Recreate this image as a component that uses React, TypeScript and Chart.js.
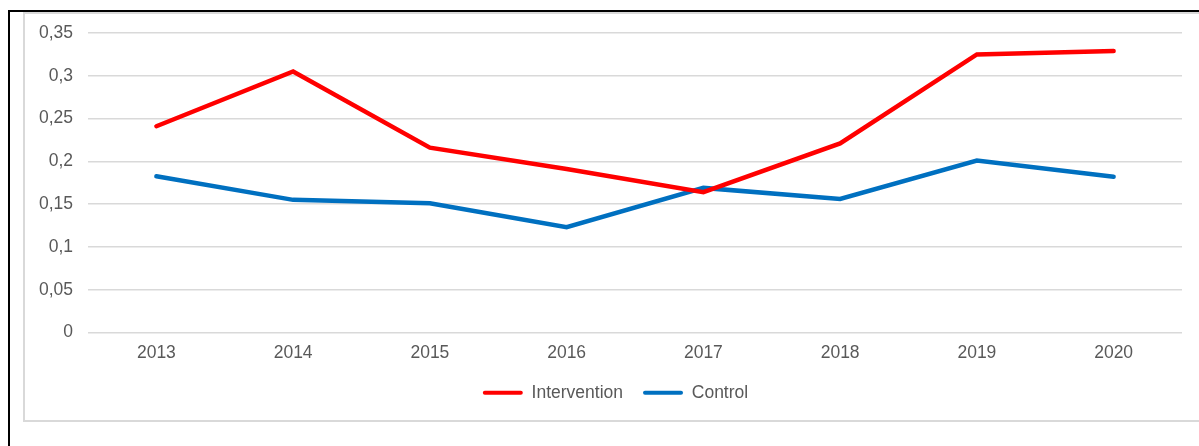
import React, { useEffect, useRef } from "react";
import { Chart, registerables } from "chart.js";

Chart.register(...registerables);

const categories = ["2013", "2014", "2015", "2016", "2017", "2018", "2019", "2020"];
const interventionValues = [0.241, 0.305, 0.216, 0.191, 0.164, 0.221, 0.325, 0.329];
const controlValues = [0.1825, 0.155, 0.151, 0.123, 0.169, 0.156, 0.201, 0.182];
const yTickLabels = ["0", "0,05", "0,1", "0,15", "0,2", "0,25", "0,3", "0,35"];
const seriesNames = ["Intervention", "Control"];

const FONT = 'Arial, "Liberation Sans", sans-serif';
const TEXT = "#595959";

// Excel centres the legend on its own frame, slightly right of the canvas centre
const legendShift = {
  id: "legendShift",
  afterLayout(chart: any) {
    if (chart.legend) chart.legend.left = 49;
  },
};

export default function App() {
  const canvasRef = useRef<HTMLCanvasElement | null>(null);

  useEffect(() => {
    document.body.style.margin = "0";
    const canvas = canvasRef.current;
    if (!canvas) return;
    const chart = new Chart(canvas, {
      type: "line",
      data: {
        labels: categories,
        datasets: [
          {
            label: seriesNames[0],
            data: interventionValues,
            borderColor: "#FF0000",
            backgroundColor: "#FF0000",
            borderWidth: 4.5,
            borderCapStyle: "round",
            borderJoinStyle: "miter",
            pointRadius: 0,
            tension: 0,
          },
          {
            label: seriesNames[1],
            data: controlValues,
            borderColor: "#0070C0",
            backgroundColor: "#0070C0",
            borderWidth: 4.5,
            borderCapStyle: "round",
            borderJoinStyle: "miter",
            pointRadius: 0,
            tension: 0,
          },
        ],
      },
      options: {
        responsive: false,
        animation: false,
        layout: { padding: { left: 0, right: 17, top: 33, bottom: 34.5 } },
        plugins: {
          tooltip: { enabled: false },
          legend: {
            position: "bottom",
            labels: {
              boxWidth: 40,
              boxHeight: 4,
              padding: 20,
              color: TEXT,
              font: { family: FONT, size: 17.5 },
              generateLabels: (c: any) =>
                Chart.defaults.plugins.legend.labels
                  .generateLabels(c)
                  .map((l: any) => ({ ...l, lineWidth: 0, borderRadius: 2 })),
            },
          },
        },
        scales: {
          x: {
            offset: true,
            afterFit: (axis: any) => {
              axis.height = 31.5;
            },
            grid: { display: false, drawTicks: false },
            border: { display: false },
            ticks: {
              color: TEXT,
              padding: 10.5,
              font: { family: FONT, size: 17.5 },
              maxRotation: 0,
            },
          },
          y: {
            min: 0,
            max: 0.35,
            afterFit: (axis: any) => {
              axis.width = 88;
            },
            grid: { color: "#d9d9d9", lineWidth: 1.5, drawTicks: false },
            border: { display: false },
            ticks: {
              stepSize: 0.05,
              padding: 15,
              color: TEXT,
              font: { family: FONT, size: 17.5 },
              callback: (_v: any, i: number) => yTickLabels[i],
            },
          },
        },
      },
      plugins: [legendShift],
    });
    return () => chart.destroy();
  }, []);

  return (
    <div
      style={{
        position: "fixed",
        left: 0,
        top: 0,
        width: 1199,
        height: 446,
        overflow: "hidden",
        background: "#fff",
      }}
    >
      <div
        style={{
          position: "absolute",
          left: 8,
          top: 10,
          width: 1400,
          height: 600,
          borderTop: "2px solid #000",
          borderLeft: "2px solid #000",
        }}
      />
      <div
        style={{
          position: "absolute",
          left: 23,
          top: 12,
          width: 1400,
          height: 406,
          border: "2px solid #d9d9d9",
        }}
      />
      <canvas
        ref={canvasRef}
        width={1199}
        height={446}
        style={{ position: "absolute", left: 0, top: 0, width: 1199, height: 446 }}
      />
    </div>
  );
}
